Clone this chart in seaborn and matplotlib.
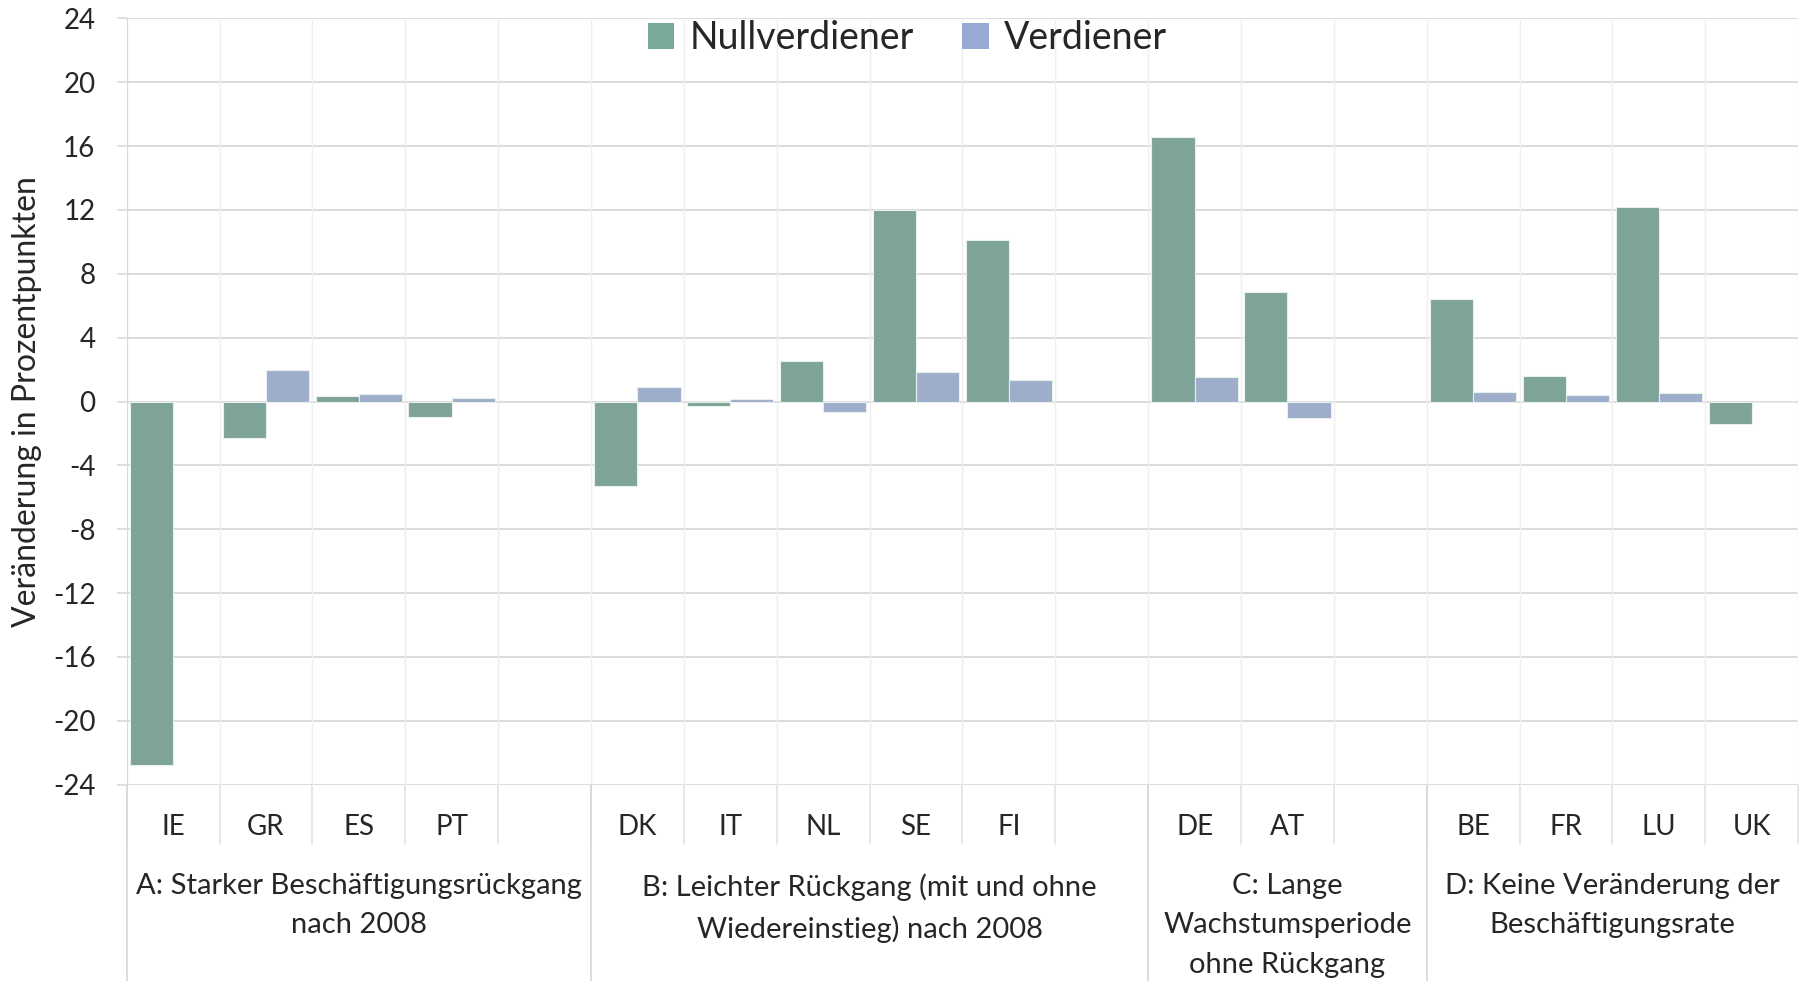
import numpy as np
import pandas as pd
import matplotlib
matplotlib.use("Agg")
import matplotlib.pyplot as plt
from matplotlib.patches import Patch
import seaborn as sns

# ---------------- data ----------------
countries = ["IE", "GR", "ES", "PT", "DK", "IT", "NL", "SE", "FI",
             "DE", "AT", "BE", "FR", "LU", "UK"]
nullverdiener = [-22.8, -2.3, 0.36, -0.94, -5.3, -0.3, 2.57, 12.0, 10.1,
                 16.6, 6.85, 6.4, 1.6, 12.2, -1.43]
verdiener = [0.0, 1.95, 0.5, 0.22, 0.91, 0.15, -0.68, 1.87, 1.33,
             1.54, -1.04, 0.6, 0.42, 0.54, 0.0]
group_labels = ["A: Starker Beschäftigungsrückgang\nnach 2008",
                "B: Leichter Rückgang (mit und ohne\nWiedereinstieg) nach 2008",
                "C: Lange\nWachstumsperiode\nohne Rückgang",
                "D: Keine Veränderung der\nBeschäftigungsrate"]
group_members = [["IE", "GR", "ES", "PT"],
                 ["DK", "IT", "NL", "SE", "FI"],
                 ["DE", "AT"],
                 ["BE", "FR", "LU", "UK"]]
series_names = ["Nullverdiener", "Verdiener"]
y_ticks = [24, 20, 16, 12, 8, 4, 0, -4, -8, -12, -16, -20, -24]
y_label = "Veränderung in Prozentpunkten"

# ---------------- slot order (with blank gap slots between groups) ----------------
order = []
group_spans = []
for gi, members in enumerate(group_members):
    start = len(order)
    order.extend(members)
    if gi < len(group_members) - 1:
        order.append(f"_gap{gi}")
    group_spans.append((start, len(order)))

df = pd.DataFrame({
    "Land": countries * 2,
    "Serie": [series_names[0]] * len(countries) + [series_names[1]] * len(countries),
    "Wert": nullverdiener + verdiener,
})

green = "#78A99A"
blue = "#97AAD4"

sns.set_theme(style="white")
plt.rcParams["font.family"] = ["Lato", "DejaVu Sans"]

fig = plt.figure(figsize=(18.04, 9.81), dpi=100)
ax = fig.add_axes([0.0702, 0.2002, 0.9266, 0.781])

sns.barplot(data=df, x="Land", y="Wert", hue="Serie", order=order,
            hue_order=series_names, palette=[green, blue], width=0.93,
            edgecolor="#E8F0EC", linewidth=0.8, errorbar=None, legend=False,
            ax=ax, zorder=3)

n = len(order)
ax.set_xlim(-0.5, n - 0.5)
ax.set_ylim(-24, 24)
ax.set_yticks(y_ticks)
ax.set_yticklabels([str(t) for t in y_ticks], fontsize=20)
ax.tick_params(axis="y", length=7.5, width=1.2, color="#D9D9D9", pad=15, left=True)
ax.set_xticks([])
ax.set_xlabel("")
ax.set_ylabel(y_label, fontsize=23, labelpad=8)

# grid
for t in y_ticks:
    ax.axhline(t, color="#D9D9D9", lw=1.3, zorder=1)
for b in np.arange(-0.5, n, 1.0):
    ax.axvline(b, color="#EFEFEF", lw=1.0, zorder=1)

for s in ax.spines.values():
    s.set_visible(False)
ax.axvline(-0.5, color="#D9D9D9", lw=1.5, zorder=2)

# category axis (multi-level)
trans = ax.get_xaxis_transform()
for i, name in enumerate(order):
    if not name.startswith("_gap"):
        ax.text(i, -0.055, name, transform=trans, ha="center", va="center",
                fontsize=20, clip_on=False)
for b in np.arange(-0.5, n, 1.0):
    ax.plot([b, b], [0, -0.078], transform=trans, color="#E3E3E3",
            lw=1.2, clip_on=False)
for (start, end), lab in zip(group_spans, group_labels):
    ax.text((start + end - 1) / 2, -0.116, lab, transform=trans, ha="center",
            va="top", fontsize=21, linespacing=1.62, clip_on=False)
for start, end in group_spans:
    ax.plot([start - 0.5, start - 0.5], [0, -0.26], transform=trans,
            color="#D9D9D9", lw=1.3, clip_on=False)

# legend
handles = [Patch(facecolor=green, edgecolor="none"),
           Patch(facecolor=blue, edgecolor="none")]
fig.legend(handles, series_names, loc="center", bbox_to_anchor=(0.503, 0.961),
           ncol=2, frameon=False, fontsize=27, handlelength=0.7,
           handleheight=0.7, handletextpad=0.4, columnspacing=1.3)

fig.savefig("out.png", dpi=100)
